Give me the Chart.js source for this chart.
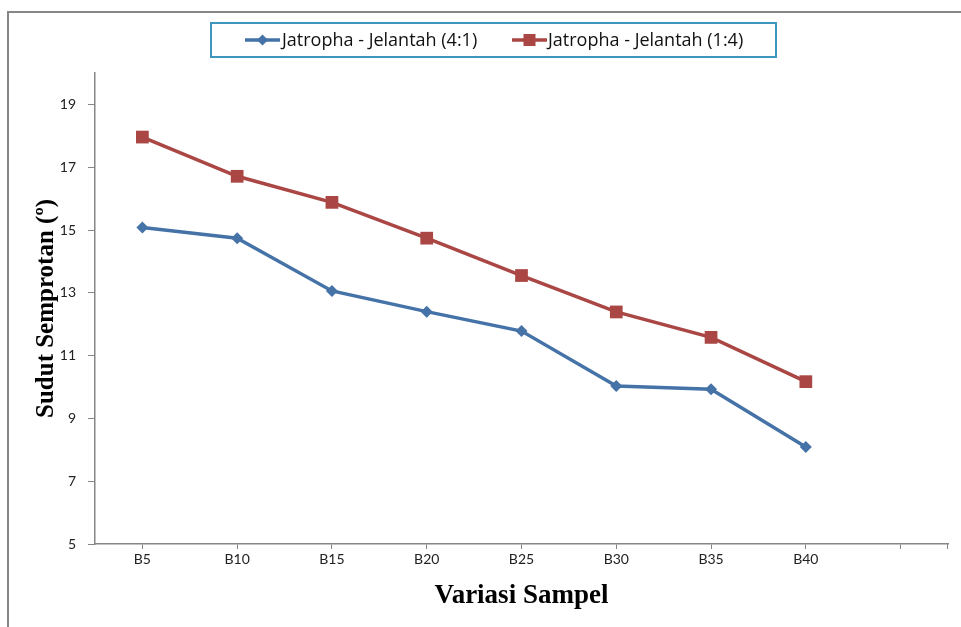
<!DOCTYPE html>
<html>
<head>
<meta charset="utf-8">
<script src="https://cdn.jsdelivr.net/npm/chart.js@4.4.1/dist/chart.umd.min.js"></script>
<style>
    html, body { margin: 0; padding: 0; background: #fff; }
    #wrap { width: 961px; height: 627px; position: relative; }
</style>
</head>
<body>
<div id="wrap"><canvas id="chart" width="961" height="627"></canvas></div>
<script>
// Data
const categories = ['B5', 'B10', 'B15', 'B20', 'B25', 'B30', 'B35', 'B40', ''];
const seriesA = [15.08, 14.74, 13.06, 12.40, 11.78, 10.03, 9.93, 8.09];
const seriesB = [17.96, 16.71, 15.88, 14.74, 13.55, 12.39, 11.58, 10.17];
const seriesNames = ['Jatropha - Jelantah (4:1)', 'Jatropha - Jelantah (1:4)'];
const yTicks = [5, 7, 9, 11, 13, 15, 17, 19];

const blue = '#4572A7';
const red = '#AA4643';
const axisGray = '#868686';

// outer frame + legend box drawn by hand (Excel style)
const framePlugin = {
    id: 'frame',
    beforeDraw(chart) {
        const ctx = chart.ctx;
        ctx.save();
        ctx.fillStyle = '#fff';
        ctx.fillRect(0, 0, chart.width, chart.height);
        ctx.strokeStyle = axisGray;
        ctx.lineWidth = 2;
        ctx.strokeRect(8, 12, 1100, 1100);
        ctx.restore();
    },
    afterDraw(chart) {
        const ctx = chart.ctx;
        const area = chart.chartArea;
        ctx.save();
        // tick at the right end of the category axis
        ctx.strokeStyle = axisGray;
        ctx.lineWidth = 1;
        ctx.beginPath();
        ctx.moveTo(area.right - 0.5, area.bottom);
        ctx.lineTo(area.right - 0.5, area.bottom + 5);
        ctx.stroke();

        // legend
        ctx.strokeStyle = '#3E95BD';
        ctx.lineWidth = 2;
        ctx.strokeRect(211, 23, 565, 34);
        const items = [
            { x: 245, textX: 282 },
            { x: 512, textX: 548 }
        ];
        chart.data.datasets.forEach((ds, i) => {
            const it = items[i];
            const cy = 40;
            ctx.strokeStyle = ds.borderColor;
            ctx.lineWidth = 3.5;
            ctx.beginPath();
            ctx.moveTo(it.x, cy);
            ctx.lineTo(it.x + 35, cy);
            ctx.stroke();
            ctx.fillStyle = ds.borderColor;
            const mx = it.x + 17.5;
            if (ds.pointStyle === 'rectRot') {
                ctx.beginPath();
                ctx.moveTo(mx, cy - 5.5);
                ctx.lineTo(mx + 5.5, cy);
                ctx.lineTo(mx, cy + 5.5);
                ctx.lineTo(mx - 5.5, cy);
                ctx.closePath();
                ctx.fill();
            } else {
                ctx.fillRect(mx - 6, cy - 6, 12, 12);
            }
            ctx.fillStyle = '#111';
            ctx.font = '18px "Open Sans"';
            ctx.textBaseline = 'middle';
            ctx.fillText(ds.label, it.textX, cy + 1);
        });
        ctx.restore();
    }
};

new Chart(document.getElementById('chart').getContext('2d'), {
    type: 'line',
    data: {
        labels: categories,
        datasets: [{
            label: seriesNames[0],
            data: seriesA,
            borderColor: blue,
            backgroundColor: blue,
            borderWidth: 3.5,
            pointStyle: 'rectRot',
            pointRadius: 6,
            pointBorderWidth: 0,
            tension: 0
        }, {
            label: seriesNames[1],
            data: seriesB,
            borderColor: red,
            backgroundColor: red,
            borderWidth: 3.5,
            pointStyle: 'rect',
            pointRadius: 9,
            pointBorderWidth: 0,
            tension: 0
        }]
    },
    options: {
        responsive: false,
        animation: false,
        devicePixelRatio: 1,
        layout: { padding: { left: 0, top: 73, right: 13, bottom: 0 } },
        plugins: {
            legend: { display: false },
            tooltip: { enabled: false }
        },
        scales: {
            x: {
                offset: true,
                grid: {
                    offset: false,
                    drawOnChartArea: false,
                    drawTicks: true,
                    tickLength: 5,
                    color: axisGray
                },
                border: { color: axisGray, width: 1.5 },
                ticks: {
                    color: '#222',
                    font: { family: 'Lato', size: 14 },
                    padding: 2,
                    maxRotation: 0,
                    autoSkip: false
                },
                title: {
                    display: true,
                    text: 'Variasi Sampel',
                    color: '#000',
                    font: { family: 'Liberation Serif', size: 27, weight: 'bold' },
                    padding: { top: 0, bottom: 15 }
                },
                afterFit(scale) { scale.height = 83; }
            },
            y: {
                min: 5,
                max: 20,
                grid: {
                    drawOnChartArea: false,
                    drawTicks: true,
                    tickLength: 7,
                    color: axisGray
                },
                border: { color: axisGray, width: 1.5 },
                ticks: {
                    color: '#222',
                    font: { family: 'Lato', size: 14 },
                    padding: 12
                },
                afterBuildTicks(scale) {
                    scale.ticks = yTicks.map(v => ({ value: v }));
                },
                title: {
                    display: true,
                    text: 'Sudut Semprotan (º)',
                    color: '#000',
                    font: { family: 'Liberation Serif', size: 25, weight: 'bold' },
                    padding: { top: 32, bottom: 0 }
                },
                afterFit(scale) { scale.width = 95; }
            }
        }
    },
    plugins: [framePlugin]
});
</script>
</body>
</html>
